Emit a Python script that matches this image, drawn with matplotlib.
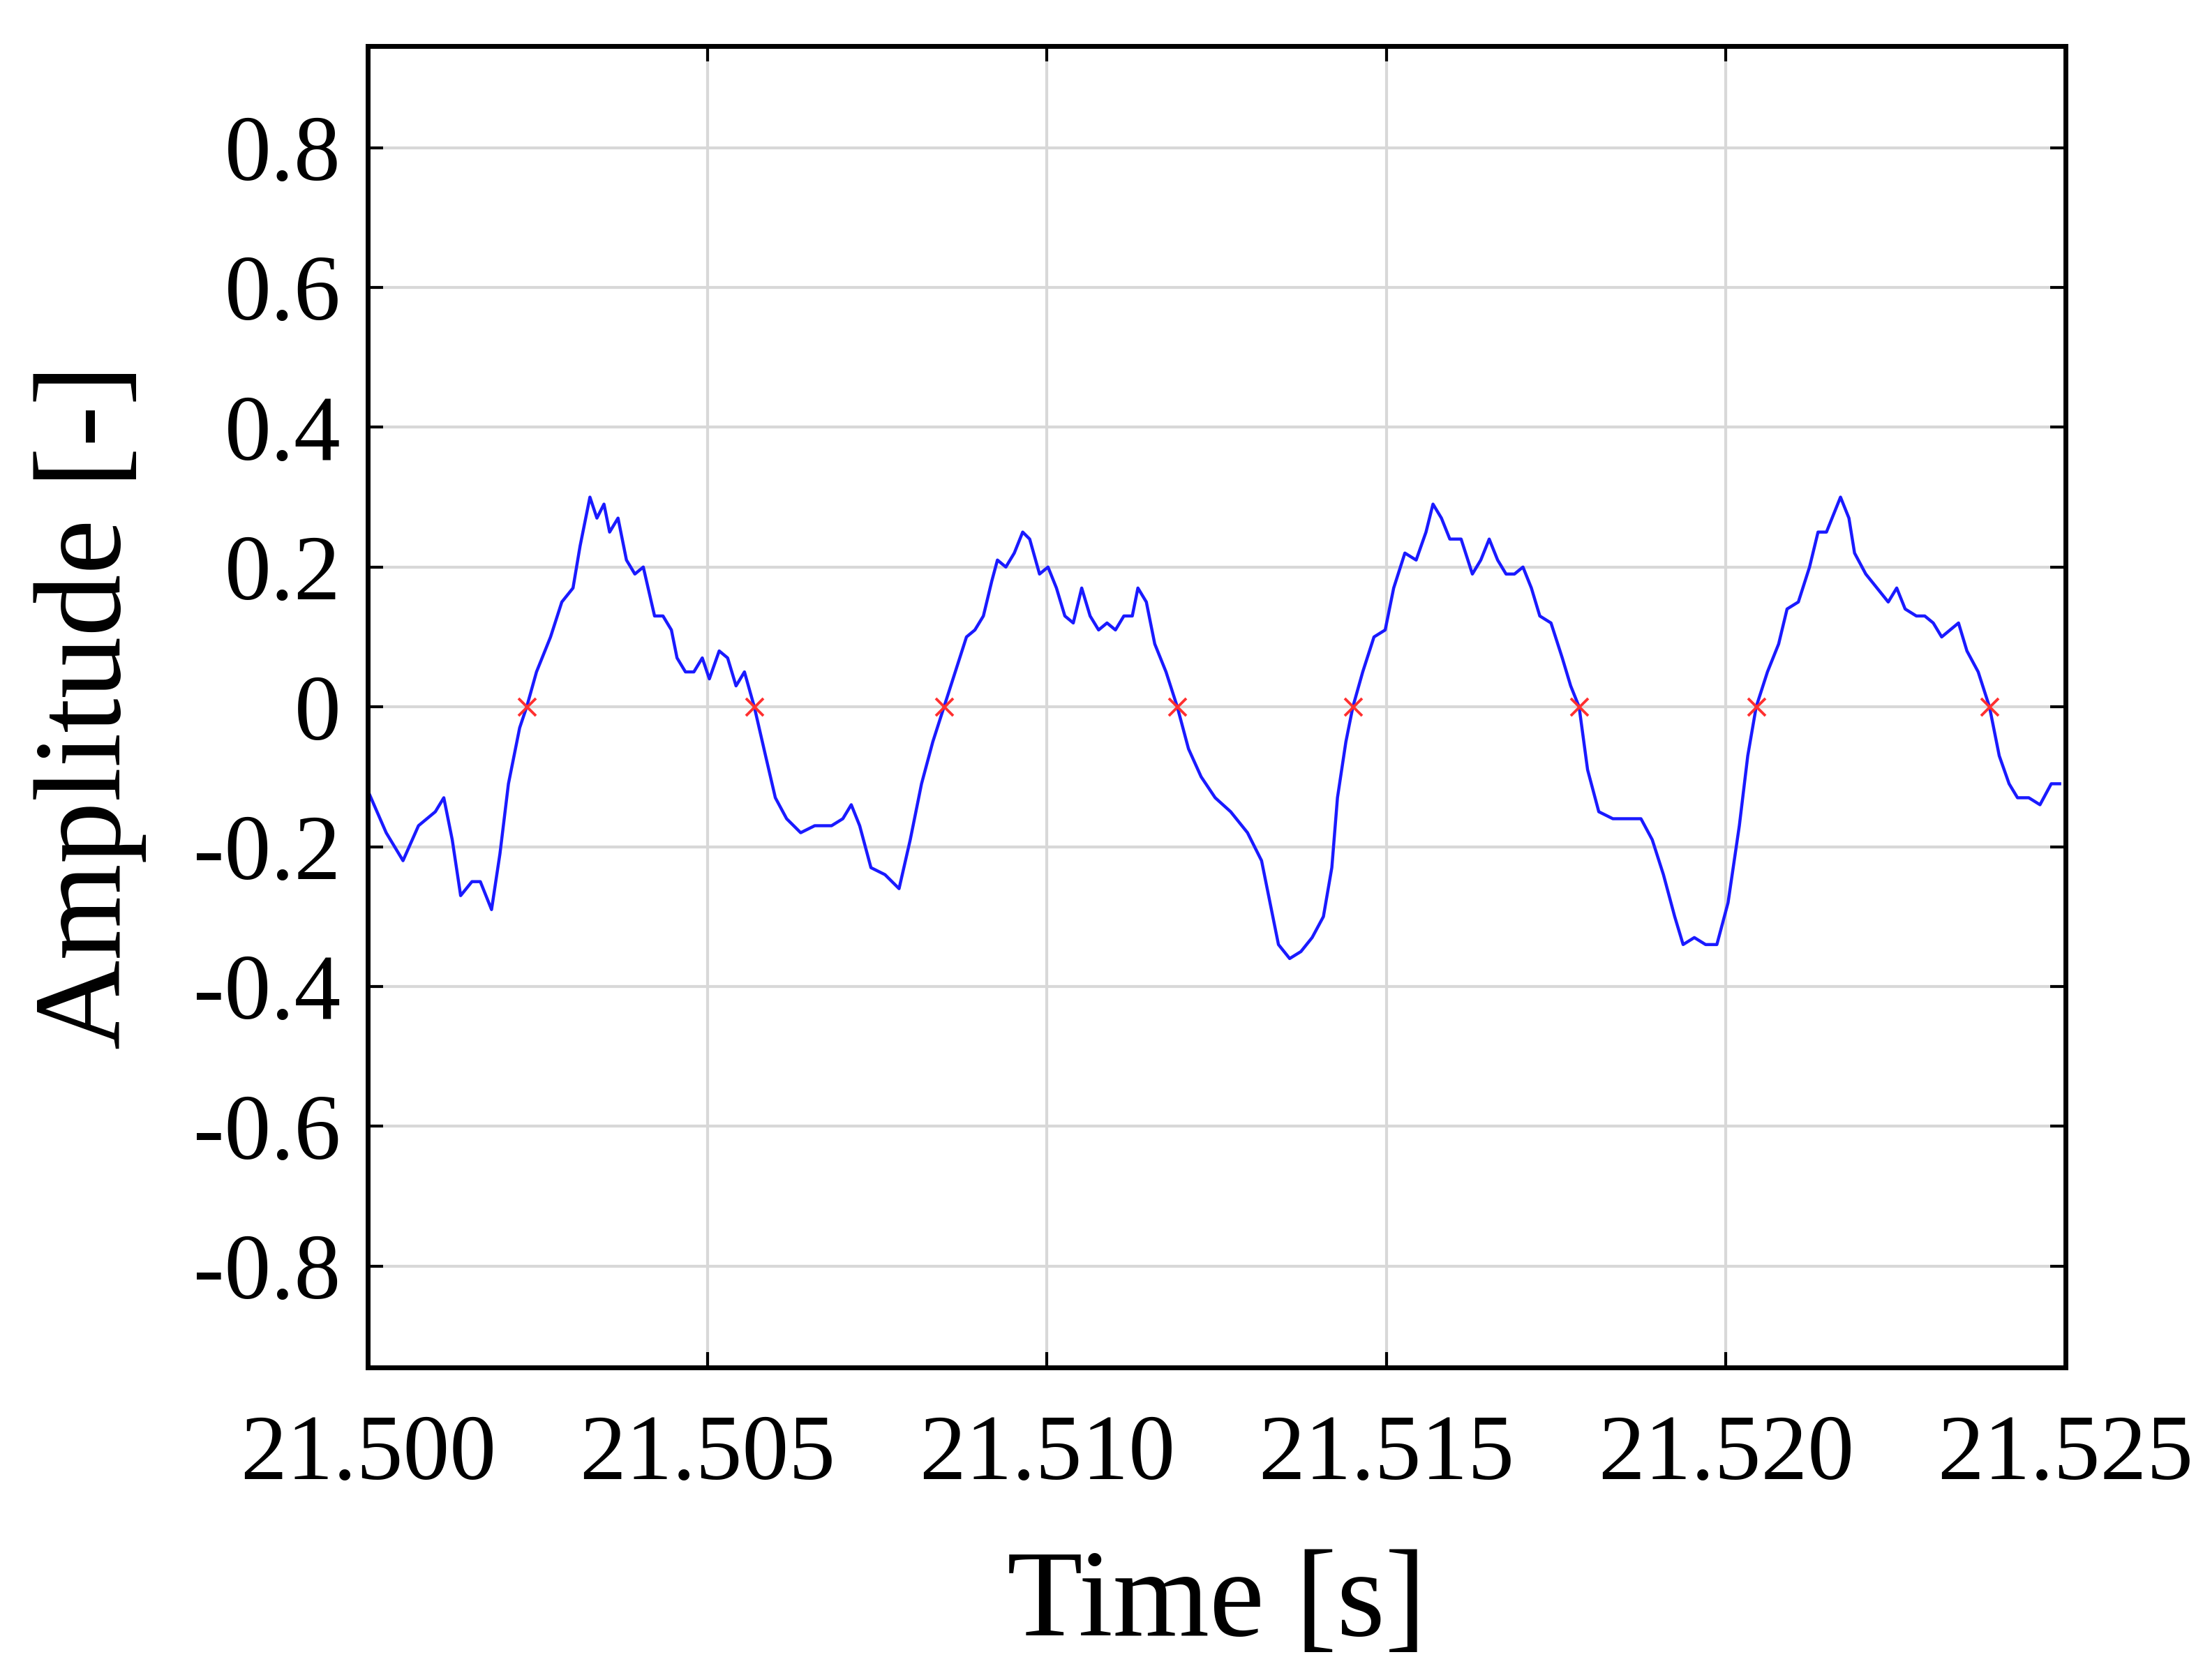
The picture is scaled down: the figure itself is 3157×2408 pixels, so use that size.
import matplotlib
matplotlib.use("Agg")
import matplotlib.pyplot as plt
import numpy as np

plt.rcParams['font.family'] = ['Liberation Serif', 'DejaVu Serif']

# time offset from 21.500 s, in ms
t_ms = [0, 0.269, 0.517, 0.745, 0.993, 1.118, 1.242, 1.366, 1.532, 1.656, 1.821, 1.945, 2.070, 2.235,
        2.339, 2.483, 2.690, 2.856, 3.021, 3.125, 3.270, 3.373, 3.477, 3.560, 3.684, 3.808, 3.932, 4.056,
        4.222, 4.346, 4.470, 4.553, 4.677, 4.801, 4.925, 5.029, 5.174, 5.298, 5.422, 5.546, 5.691, 5.857,
        6.001, 6.167, 6.374, 6.581, 6.829, 6.995, 7.119, 7.243, 7.409, 7.616, 7.823, 7.988, 8.154, 8.320,
        8.485, 8.651, 8.816, 8.940, 9.065, 9.189, 9.272, 9.396, 9.520, 9.644, 9.747, 9.892, 10.017, 10.141,
        10.265, 10.389, 10.513, 10.637, 10.762, 10.886, 11.010, 11.134, 11.258, 11.341, 11.465, 11.589,
        11.755, 11.921, 12.086, 12.272, 12.479, 12.707, 12.955, 13.162, 13.307, 13.411, 13.576, 13.742,
        13.907, 14.073, 14.197, 14.280, 14.404, 14.507, 14.652, 14.818, 14.983, 15.108, 15.273, 15.439,
        15.584, 15.687, 15.811, 15.935, 16.101, 16.267, 16.391, 16.515, 16.639, 16.763, 16.887, 17.012,
        17.136, 17.260, 17.425, 17.591, 17.715, 17.839, 17.964, 18.129, 18.336, 18.543, 18.750, 18.916,
        19.081, 19.247, 19.371, 19.536, 19.702, 19.868, 20.033, 20.199, 20.323, 20.447, 20.613, 20.778,
        20.902, 21.068, 21.233, 21.358, 21.482, 21.565, 21.689, 21.813, 21.896, 22.061, 22.227, 22.392,
        22.517, 22.641, 22.806, 22.930, 23.055, 23.179, 23.303, 23.427, 23.551, 23.717, 23.883, 24.027,
        24.172, 24.296, 24.462, 24.627, 24.793, 24.917]
amp = [-0.12, -0.18, -0.22, -0.17, -0.15, -0.13, -0.19, -0.27, -0.25, -0.25, -0.29, -0.21, -0.11, -0.03,
       0, 0.05, 0.10, 0.15, 0.17, 0.23, 0.30, 0.27, 0.29, 0.25, 0.27, 0.21, 0.19, 0.20,
       0.13, 0.13, 0.11, 0.07, 0.05, 0.05, 0.07, 0.04, 0.08, 0.07, 0.03, 0.05, 0, -0.07,
       -0.13, -0.16, -0.18, -0.17, -0.17, -0.16, -0.14, -0.17, -0.23, -0.24, -0.26, -0.19, -0.11, -0.05,
       0, 0.05, 0.10, 0.11, 0.13, 0.18, 0.21, 0.20, 0.22, 0.25, 0.24, 0.19, 0.20, 0.17,
       0.13, 0.12, 0.17, 0.13, 0.11, 0.12, 0.11, 0.13, 0.13, 0.17, 0.15, 0.09,
       0.05, 0, -0.06, -0.10, -0.13, -0.15, -0.18, -0.22, -0.29, -0.34, -0.36, -0.35,
       -0.33, -0.30, -0.23, -0.13, -0.05, 0, 0.05, 0.10, 0.11, 0.17, 0.22, 0.21,
       0.25, 0.29, 0.27, 0.24, 0.24, 0.19, 0.21, 0.24, 0.21, 0.19, 0.19, 0.20,
       0.17, 0.13, 0.12, 0.07, 0.03, 0, -0.09, -0.15, -0.16, -0.16, -0.16, -0.19,
       -0.24, -0.30, -0.34, -0.33, -0.34, -0.34, -0.28, -0.17, -0.07, 0, 0.05, 0.09,
       0.14, 0.15, 0.20, 0.25, 0.25, 0.27, 0.30, 0.27, 0.22, 0.19, 0.17, 0.15,
       0.17, 0.14, 0.13, 0.13, 0.12, 0.10, 0.11, 0.12, 0.08, 0.05, 0, -0.07,
       -0.11, -0.13, -0.13, -0.14, -0.11, -0.11]
zero_ms = [2.339, 5.691, 8.485, 11.921, 14.507, 17.839, 20.447, 23.883]

t = 21.5 + np.array(t_ms) / 1000
tz = 21.5 + np.array(zero_ms) / 1000

fig = plt.figure(figsize=(15.785, 12.04), dpi=200)
ax = fig.add_axes([0.167, 0.186, 0.7705, 0.7865])
ax.plot(t, amp, color='#1a1aff', linewidth=1.6)
ax.plot(tz, np.zeros(len(tz)), 'x', color='#ff3030', markersize=9, markeredgewidth=1.4)

ax.set_xlim(21.5, 21.525)
ax.set_ylim(-0.945, 0.945)
xt = [21.500, 21.505, 21.510, 21.515, 21.520, 21.525]
ax.set_xticks(xt)
ax.set_xticklabels(['%.3f' % v for v in xt])
yt = [-0.8, -0.6, -0.4, -0.2, 0, 0.2, 0.4, 0.6, 0.8]
ax.set_yticks(yt)
ax.set_yticklabels(['0' if v == 0 else '%.1f' % v for v in yt])
ax.grid(True, color='#d8d8d8', linewidth=1.5)
ax.tick_params(labelsize=48, length=8, width=1.5, direction='in', top=True, right=True, pad=14)
ax.tick_params(axis='x', pad=24)
for s in ax.spines.values():
    s.set_linewidth(2.5)
ax.set_xlabel('Time [s]', fontsize=64, labelpad=26)
ax.set_ylabel('Amplitude [-]', fontsize=64, labelpad=24)

plt.savefig("out.png")
